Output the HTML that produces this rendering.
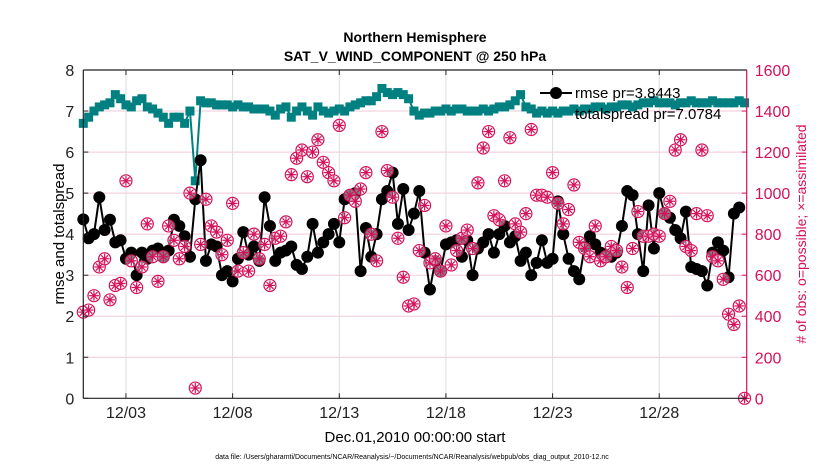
<!DOCTYPE html>
<html><head><meta charset="utf-8"><style>
html,body{margin:0;padding:0;background:#fff;}
svg{display:block;font-family:"Liberation Sans",Arial,sans-serif;}
</style></head><body>
<svg id="chart" width="830" height="470" viewBox="0 0 830 470">
<g>
<text x="415" y="42" text-anchor="middle" font-size="14" font-weight="bold">Northern Hemisphere</text>
<text x="415" y="61" text-anchor="middle" font-size="14" font-weight="bold">SAT_V_WIND_COMPONENT @ 250 hPa</text>
</g>
<g id="grid"></g>
<g id="marks"></g>
<g id="axes"></g>
<g>
<line x1="540" y1="93" x2="572" y2="93" stroke="#000" stroke-width="2"/>
<circle cx="556" cy="93" r="6" fill="#000"/>
<text x="575" y="98" font-size="15">rmse pr=3.8443</text>
<text x="575" y="119" font-size="15">totalspread pr=7.0784</text>
</g>
<text x="415" y="442" text-anchor="middle" font-size="15">Dec.01,2010 00:00:00 start</text>
<text x="412" y="459" text-anchor="middle" font-size="7">data file: /Users/gharamti/Documents/NCAR/Reanalysis/~/Documents/NCAR/Reanalysis/webpub/obs_diag_output_2010-12.nc</text>
<text transform="translate(64,234) rotate(-90)" text-anchor="middle" font-size="15">rmse and totalspread</text>
<text transform="translate(806,234) rotate(-90)" text-anchor="middle" font-size="14" fill="#d4115b"># of obs: o=possible; ×=assimilated</text>
</svg>
<script>
const rmse=[4.36,3.9,4.0,4.9,4.1,4.35,3.8,3.85,3.4,3.55,3.0,3.55,3.4,3.6,3.65,3.45,3.6,4.35,4.2,3.95,3.45,4.85,5.8,3.35,3.75,3.7,3.0,3.1,2.85,3.4,4.05,3.5,3.7,3.35,4.9,4.2,3.35,3.55,3.6,3.7,3.25,3.15,3.45,4.25,3.55,3.8,4.0,
4.25,3.8,4.85,4.95,5.0,3.1,4.15,3.45,4.0,4.85,5.05,5.5,4.25,5.1,4.1,4.5,5.05,3.55,2.65,3.35,3.1,3.75,3.8,3.85,3.45,3.85,3.0,3.65,3.8,4.0,3.55,4.0,4.2,3.8,3.95,3.35,3.55,3.0,3.3,3.85,3.3,
3.4,4.8,4.0,3.4,3.1,2.9,3.7,3.95,3.75,3.55,3.5,3.45,3.55,4.2,5.05,4.95,4.0,3.1,4.7,3.65,5.0,4.5,4.4,4.1,3.9,4.55,3.2,3.15,3.1,2.75,3.55,3.8,3.6,2.95,4.5,4.65];
const spread=[6.7,6.85,7.0,7.1,7.15,7.2,7.4,7.3,7.15,7.1,7.25,7.3,7.1,7.05,6.95,6.85,6.7,6.85,6.85,6.7,7.0,5.3,7.25,7.2,7.2,7.15,7.15,7.15,7.1,7.15,7.1,7.1,7.05,7.05,7.05,7.0,6.9,7.05,7.1,6.85,7.0,7.1,7.0,6.9,7.1,7.0,6.95,7.0,7.05,
7.0,7.1,7.15,7.2,7.25,7.25,7.35,7.55,7.45,7.4,7.45,7.4,7.3,7.0,6.9,6.95,6.95,7.0,7.0,7.05,7.0,7.05,7.05,7.0,7.0,7.0,7.05,7.0,7.05,7.1,7.1,7.15,7.25,7.4,7.1,7.05,6.95,7.0,6.95,7.0,6.95,
7.0,7.0,7.05,7.0,7.05,7.05,7.1,7.1,7.05,7.1,7.1,7.15,7.15,7.1,7.15,7.2,7.2,7.25,7.2,7.2,7.2,7.15,7.2,7.2,7.25,7.2,7.2,7.2,7.25,7.2,7.2,7.2,7.2,7.25,7.2];
const nobs=[420,430,500,640,680,480,550,560,1060,670,540,640,850,690,570,690,840,770,680,740,1000,50,750,970,840,810,700,770,950,620,710,620,800,680,750,550,780,790,860,1090,1170,1210,1080,1200,1260,1150,1100,
1060,1330,880,990,960,1020,1100,800,670,1300,1110,980,780,590,450,460,720,940,660,680,620,840,650,720,780,820,730,1050,1220,1300,890,870,1060,1270,850,810,900,1310,990,990,980,1100,950,
850,920,1040,760,730,690,840,670,690,740,720,640,540,730,910,790,790,800,790,900,960,1210,1260,740,720,900,1210,890,690,670,580,410,360,450,0];
const leftTicks=[0,1,2,3,4,5,6,7,8];
const rightTicks=[0,200,400,600,800,1000,1200,1400,1600];
const dayTicks=[3,8,13,18,23,28];
const dayLabels=["12/03","12/08","12/13","12/18","12/23","12/28"];

const X0=83.3,X1=746.7,Y0=398.3,Y1=70;
const xs=d=>X0+(d-1)*(X1-X0)/31.1;
const yL=v=>Y0-v*(Y0-Y1)/8;
const yR=v=>Y0-v*(Y0-Y1)/1600;
const NS="http://www.w3.org/2000/svg";
function mk(tag,parent,attrs){const e=document.createElementNS(NS,tag);for(const k in attrs)e.setAttribute(k,attrs[k]);parent.appendChild(e);return e;}
const grid=document.getElementById('grid'),marks=document.getElementById('marks'),axes=document.getElementById('axes');
const PINK="#d4115b",TEAL="#008080";
leftTicks.forEach(t=>{
 if(t>0&&t<8){const g=mk('line',grid,{x1:X0,x2:X1,y1:yL(t),y2:yL(t),stroke:"#f2c9d8","stroke-width":1});
 
 }
 const tk=mk('line',axes,{x1:X0,x2:X0+5,y1:yL(t),y2:yL(t),stroke:"#222"});
 
 
 const lb=mk('text',axes,{x:X0-9,y:yL(t)+6,"text-anchor":"end","font-size":16,fill:"#222"});lb.textContent=t;
 
 
});
rightTicks.forEach(t=>{
 const tk=mk('line',axes,{x1:X1-5,x2:X1,y1:yR(t),y2:yR(t),stroke:PINK});
 
 
 const lb=mk('text',axes,{x:X1+8,y:yR(t)+6,"font-size":16,fill:PINK});lb.textContent=t;
 
 
});
dayTicks.forEach((d,i)=>{
 const g=mk('line',grid,{x1:xs(d),x2:xs(d),y1:Y1,y2:Y0,stroke:"#dcdcdc"});
 
 
 const tk=mk('line',axes,{x1:xs(d),x2:xs(d),y1:Y0,y2:Y0-5,stroke:"#222"});
 
 
 const tk2=mk('line',axes,{x1:xs(d),x2:xs(d),y1:Y1,y2:Y1+5,stroke:"#222"});
 
 
 const lb=mk('text',axes,{x:xs(d),y:418,"text-anchor":"middle","font-size":16,fill:"#222"});lb.textContent=dayLabels[i];
 
 
});
const ax=[["left-axis-line",X0,Y1,X0,Y0,"#222"],["bottom-axis-line",X0,Y0,X1,Y0,"#222"],["top-axis-line",X0,Y1,X1,Y1,"#222"],["right-axis-line",X1,Y1,X1,Y0,PINK]];
ax.forEach(a=>{const l=mk('line',axes,{x1:a[1],y1:a[2],x2:a[3],y2:a[4],stroke:a[5],"stroke-width":1.2});
 
 });
const day=i=>1+i/4;
const sp=mk('polyline',marks,{points:spread.map((v,i)=>xs(day(i))+","+yL(v)).join(" "),fill:"none",stroke:TEAL,"stroke-width":2});


spread.forEach((v,i)=>{const r=mk('rect',marks,{x:xs(day(i))-4.5,y:yL(v)-4.5,width:9,height:9,fill:TEAL});
 
 });
const rl=mk('polyline',marks,{points:rmse.map((v,i)=>xs(day(i))+","+yL(v)).join(" "),fill:"none",stroke:"#000","stroke-width":2});


rmse.forEach((v,i)=>{const c=mk('circle',marks,{cx:xs(day(i)),cy:yL(v),r:6,fill:"#000"});
 
 });
nobs.forEach((v,i)=>{const cx=xs(day(i)),cy=yR(v);
 const g=mk('g',marks,{stroke:PINK,"stroke-width":1.2,fill:"none"});
 
 
 mk('circle',g,{cx:cx,cy:cy,r:6,fill:"rgba(255,255,255,0.5)"});
 for(let a=0;a<4;a++){const t=a*Math.PI/4;mk('line',g,{x1:cx-5*Math.cos(t),y1:cy-5*Math.sin(t),x2:cx+5*Math.cos(t),y2:cy+5*Math.sin(t)});}
});
</script>
</body></html>
